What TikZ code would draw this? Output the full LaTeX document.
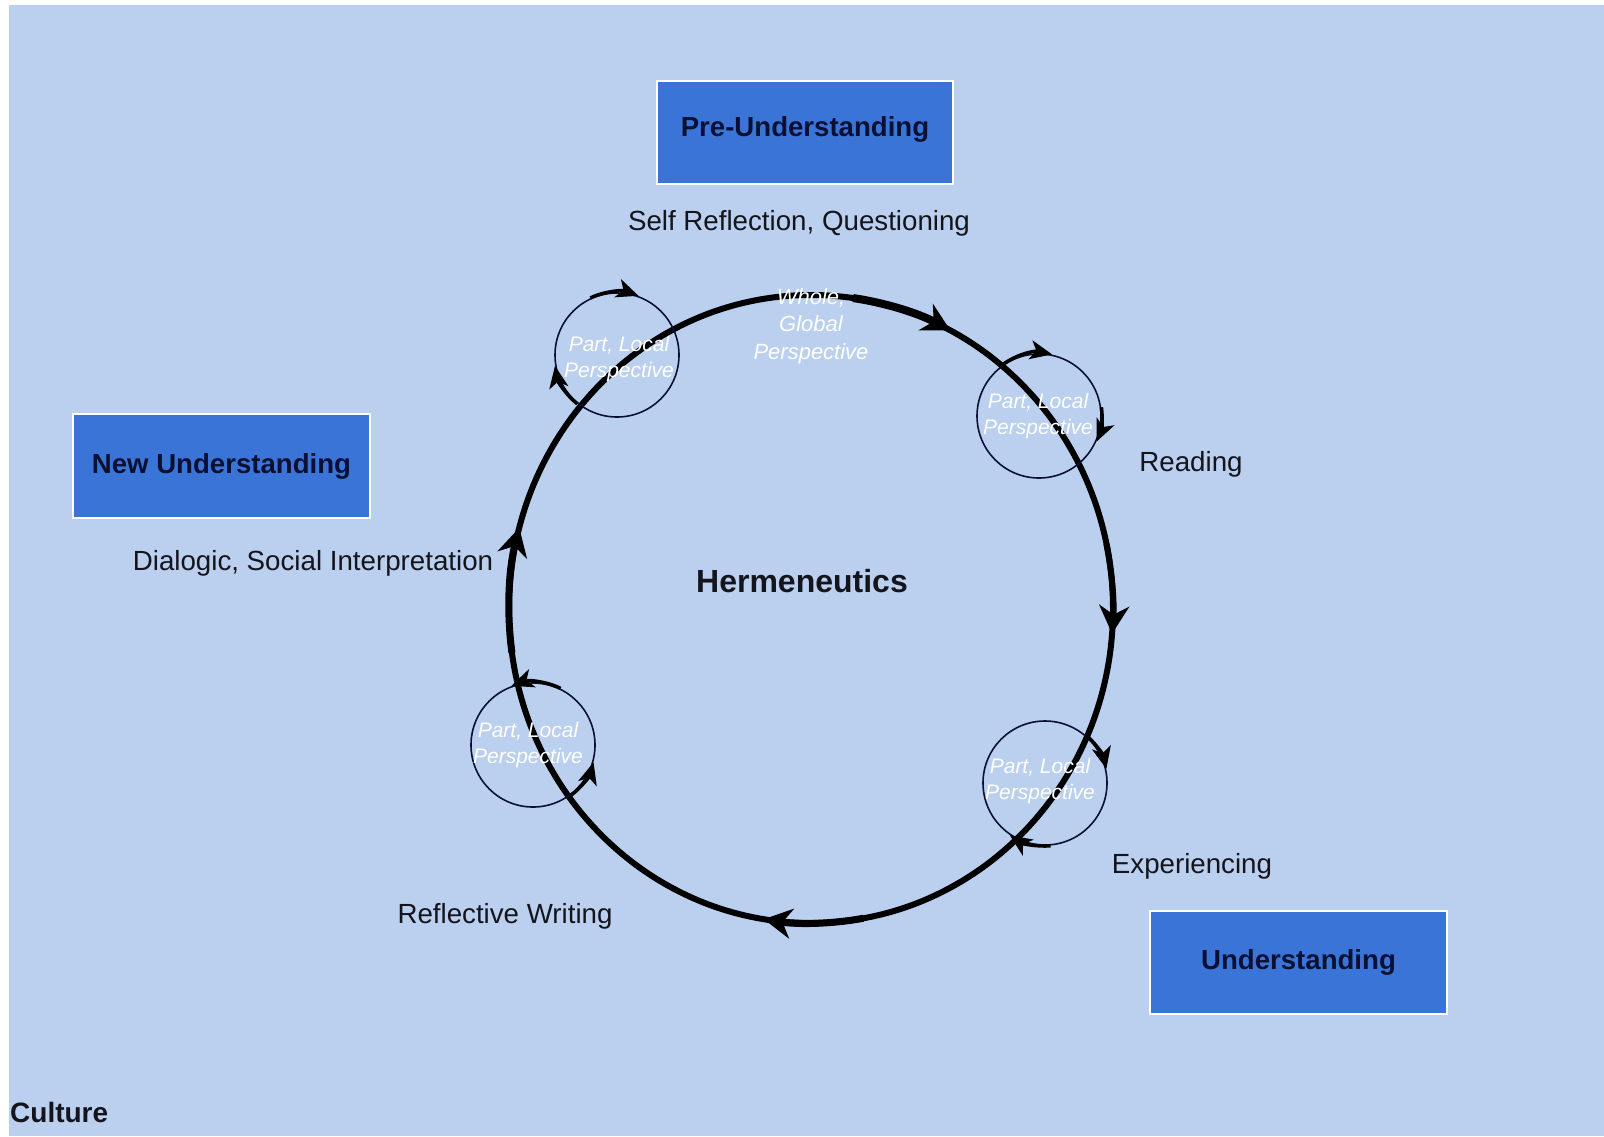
\documentclass[tikz,border=0pt]{standalone}
\usepackage{fontspec}
\setmainfont{Liberation Sans}
\usetikzlibrary{arrows.meta}
\definecolor{bgblue}{RGB}{187,207,239}
\definecolor{boxblue}{RGB}{58,116,214}
\definecolor{navy}{RGB}{10,16,52}
\definecolor{ink}{RGB}{20,20,28}
\begin{document}
\begin{tikzpicture}[x=1pt,y=1pt,
  bigbox/.style={draw=white, line width=1.5pt, fill=boxblue, minimum height=103pt, inner sep=0pt, font=\fontsize{27.6}{33}\selectfont\bfseries, text=navy},
  lbl/.style={font=\fontsize{27.7}{33}\selectfont, text=ink, inner sep=0pt},
  part/.style={circle, draw=navy, line width=1.6pt, minimum size=124pt, inner sep=0pt},
  parttxt/.style={font=\fontsize{21}{26}\selectfont\itshape, text=white, align=center, inner sep=0pt},
  loopar/.style={line width=3.5pt, draw=black, -{Stealth[length=22pt,width=19pt,inset=6pt]}},
  cyc/.style={line width=6pt, -{Stealth[length=28pt,width=30pt,inset=9pt]}},
]
% page and background
\fill[white] (0,0) rectangle (1604,-1136);
\useasboundingbox (0,0) rectangle (1604,-1136);
\fill[bgblue] (9,-5) rectangle (1604,-1136);

% boxes
\node[bigbox, minimum width=296pt] (pre) at (805,-132.5) {};
\node[lbl, font=\fontsize{27.6}{33}\selectfont\bfseries, text=navy] (pretxt) at (805,-129) {Pre-Understanding};
\node[bigbox, minimum width=297pt, minimum height=104pt] (new) at (221.5,-466) {New Understanding};
\node[bigbox, minimum width=297pt] (und) at (1298.5,-962.5) {Understanding};

% labels
\node[lbl] (self) at (799,-223) {Self Reflection, Questioning};
\node[lbl] (dial) at (313,-563) {Dialogic, Social Interpretation};
\node[lbl] (read) at (1191,-464) {Reading};
\node[lbl] (exp) at (1192,-866) {Experiencing};
\node[lbl] (refl) at (505,-916) {Reflective Writing};
\node[lbl, font=\fontsize{32}{38}\selectfont\bfseries] (herm) at (802,-581) {Hermeneutics};
\node[lbl, font=\fontsize{28}{33}\selectfont\bfseries, anchor=west] (cult) at (10,-1112) {Culture};

% big hermeneutic circle
\coordinate (hc) at (811,-609);
\draw[line width=6pt] (hc) ellipse [x radius=302, y radius=314];
\draw[cyc, line width=8pt] ([shift={(82:302 and 314)}]hc) arc[start angle=82, end angle=62.5, x radius=302, y radius=314];
\draw[cyc] ([shift={(12:302 and 314)}]hc) arc[start angle=12, end angle=-4.5, x radius=302, y radius=314];
\draw[cyc, line width=7pt] ([shift={(-80:302 and 314)}]hc) arc[start angle=-80, end angle=-99, x radius=302, y radius=314];
\draw[cyc, line width=7pt] ([shift={(188:302 and 314)}]hc) arc[start angle=188, end angle=165, x radius=302, y radius=314];

% small part circles
\node[part] (p1) at (617,-355) {};
\node[part] (p2) at (1039,-416) {};
\node[part] (p3) at (1045,-783) {};
\node[part] (p4) at (533,-745) {};

\draw[loopar] ([shift={(115:63)}]p1.center) arc[start angle=115, end angle=70, radius=63];
\draw[loopar] ([shift={(231:63)}]p1.center) arc[start angle=231, end angle=190, radius=63];
\draw[loopar] ([shift={(129:63)}]p2.center) arc[start angle=129, end angle=78, radius=63];
\draw[loopar] ([shift={(8:63)}]p2.center) arc[start angle=8, end angle=-24, radius=63];
\draw[loopar] ([shift={(50:63)}]p3.center) arc[start angle=50, end angle=13, radius=63];
\draw[loopar] ([shift={(-85:63)}]p3.center) arc[start angle=-85, end angle=-124, radius=63];
\draw[loopar] ([shift={(64:63)}]p4.center) arc[start angle=64, end angle=110, radius=63];
\draw[loopar] ([shift={(-53:63)}]p4.center) arc[start angle=-53, end angle=-16, radius=63];

% texts on top
\node[parttxt] (t1) at (619,-359) {Part, Local\\Perspective};
\node[parttxt] (t2) at (1038,-416) {Part, Local\\Perspective};
\node[parttxt] (t3) at (1040,-781) {Part, Local\\Perspective};
\node[parttxt] (t4) at (528,-745) {Part, Local\\Perspective};
\node[parttxt, font=\fontsize{22}{27.5}\selectfont\itshape] (whole) at (811,-326) {Whole,\\Global\\Perspective};
\end{tikzpicture}
\end{document}
